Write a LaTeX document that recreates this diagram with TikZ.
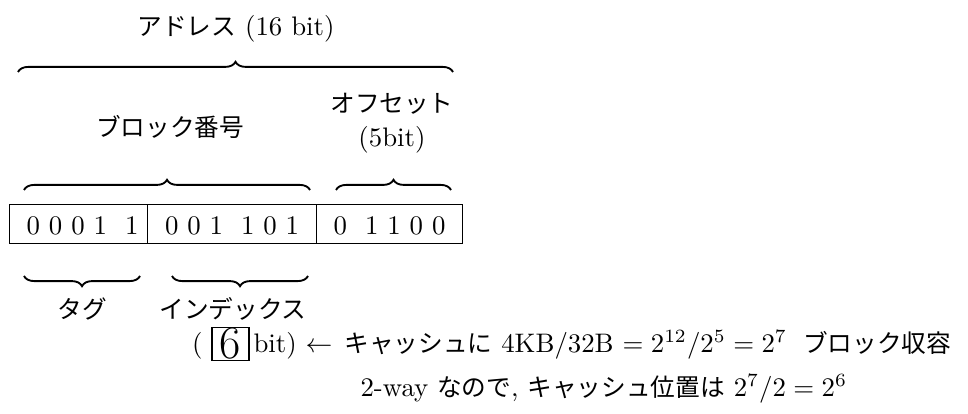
\documentclass[tikz,border=0pt]{standalone}
\usepackage{fontspec}
\newfontfamily\jp{Noto Sans CJK JP}[Scale=0.92]
\usetikzlibrary{decorations.pathreplacing}
\newcommand\J[1]{{\jp #1}}
\tikzset{
  txt/.style={inner sep=0pt, font=\fontsize{10}{12}\selectfont},
  cell/.style={draw, line width=0.4pt, inner xsep=0pt, inner ysep=0pt, text height=11.2pt, text depth=3.36pt, anchor=north west, font=\fontsize{10}{12}\selectfont},
  bracetop/.style={decorate, decoration={brace, amplitude=3.8pt}, line width=0.7pt},
  bracebot/.style={decorate, decoration={brace, amplitude=3.8pt, mirror}, line width=0.7pt},
}
\newcommand\wg{\hspace{6.7pt}}
\begin{document}
\begin{tikzpicture}[x=0.3731pt, y=-0.3731pt]
\useasboundingbox (0,0) rectangle (968,414);
% title
\node[txt, anchor=base] (title) at (236,36) {\J{アドレス} (16 bit)};
\coordinate (tl) at (18,72); \coordinate (tr) at (453,72);
\draw[bracetop] (tl) -- (tr);
% second level labels
\node[txt, anchor=base] (blk) at (170,137) {\J{ブロック番号}};
\node[txt, anchor=base] (ofs) at (392,113) {\J{オフセット}};
\node[txt, anchor=base] (ofsb) at (392,147) {(5bit)};
\coordinate (b1l) at (24,190); \coordinate (b1r) at (310,190);
\coordinate (b2l) at (336,190); \coordinate (b2r) at (451,190);
\draw[bracetop] (b1l) -- (b1r);
\draw[bracetop] (b2l) -- (b2r);
% register
\node[cell, minimum width=51.49pt] (c1) at (9,204) {\hspace{3pt}0 0 0 1\wg 1};
\node[cell, minimum width=63.05pt] (c2) at (147,204) {0 0 1\wg 1 0 1};
\node[cell, minimum width=54.47pt] (c3) at (316,204) {0\wg 1 1 0 0};
% lower braces
\coordinate (t1l) at (24,276); \coordinate (t1r) at (140,276);
\coordinate (i1l) at (172,276); \coordinate (i1r) at (308,276);
\draw[bracebot] (t1l) -- (t1r);
\draw[bracebot] (i1l) -- (i1r);
\node[txt, anchor=base] (tag) at (82,318) {\J{タグ}};
\node[txt, anchor=base] (idx) at (233,318) {\J{インデックス}};
% index bits
\node[txt, anchor=base east] (lp) at (203,352) {(};
\node[draw, line width=0.4pt, minimum width=13.8pt, minimum height=12.5pt, inner sep=0pt, font=\LARGE] (six) at (230.5,344) {6};
\node[txt, anchor=base west] (bitp) at (253,352) {bit)};
\node[txt, anchor=base west] (l1) at (305,352) {$\leftarrow$\hspace{4.5pt}\J{キャッシュに} 4KB/32B $= 2^{12}/2^{5} = 2^{7}$\hspace{6pt}\J{ブロック収容}};
\node[txt, anchor=base west] (l2) at (360,396) {2-way \J{なので}, \J{キャッシュ位置は} $2^{7}/2 = 2^{6}$};
\end{tikzpicture}
\end{document}
